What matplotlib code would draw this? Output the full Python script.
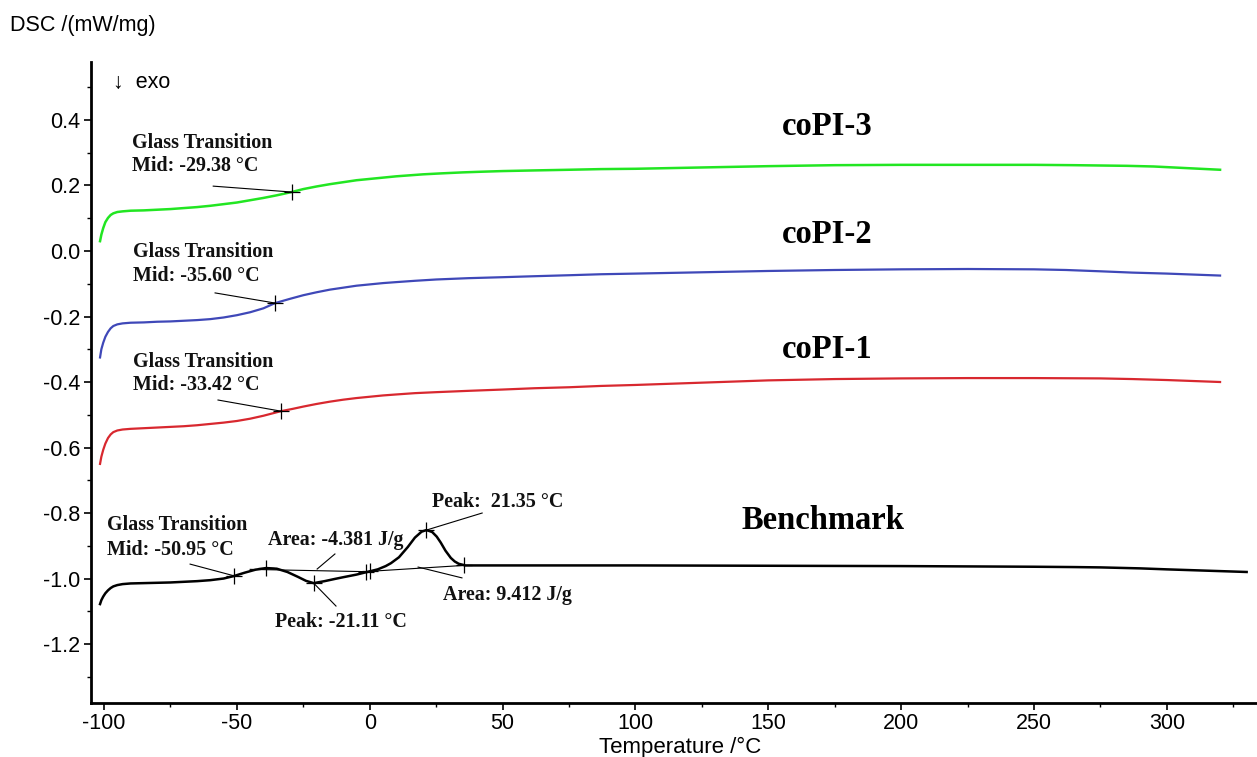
import matplotlib
matplotlib.use("Agg")
import matplotlib.pyplot as plt
from matplotlib.ticker import MultipleLocator

plt.rcParams["axes.unicode_minus"] = False
plt.rcParams["font.family"] = ["Liberation Sans", "DejaVu Sans"]

# --- DSC traces (temperature in °C, heat flow in mW/mg) ---
copi3_T = [-101.5, -101, -100.3, -99.5, -98.5, -97.5, -96.5, -95, -93, -90, -85, -80,
           -75, -70, -65, -60, -55, -50, -45, -40, -35, -29.38, -25, -20, -15, -10, -5,
           0, 5, 10, 15, 20, 27, 35, 42, 50, 62, 75, 87, 100, 125, 150, 175, 200, 225,
           250, 265, 275, 285, 295, 300, 305, 310, 315, 320]
copi3_Q = [0.03, 0.05, 0.07, 0.088, 0.101, 0.110, 0.115, 0.119, 0.121, 0.123, 0.124,
           0.126, 0.128, 0.131, 0.134, 0.138, 0.143, 0.148, 0.155, 0.162, 0.170, 0.180,
           0.189, 0.197, 0.204, 0.210, 0.216, 0.220, 0.224, 0.228, 0.231, 0.234, 0.237,
           0.240, 0.242, 0.244, 0.246, 0.248, 0.250, 0.251, 0.255, 0.259, 0.262, 0.263,
           0.263, 0.263, 0.262, 0.261, 0.260, 0.258, 0.256, 0.254, 0.252, 0.250, 0.248]

copi2_T = [-101.5, -101, -100.3, -99.5, -98.5, -97.5, -96.5, -95, -93, -90, -85, -80,
           -75, -70, -65, -60, -55, -50, -45, -40, -35.6, -30, -25, -20, -15, -10, -5,
           0, 5, 10, 17, 25, 37, 50, 62, 75, 87, 100, 125, 150, 175, 200, 225, 250, 262,
           275, 287, 300, 310, 320]
copi2_Q = [-0.325, -0.300, -0.280, -0.262, -0.247, -0.236, -0.229, -0.224, -0.221,
           -0.219, -0.218, -0.216, -0.215, -0.213, -0.211, -0.208, -0.203, -0.196,
           -0.187, -0.175, -0.159, -0.146, -0.135, -0.126, -0.118, -0.112, -0.106,
           -0.102, -0.098, -0.095, -0.091, -0.087, -0.083, -0.080, -0.077, -0.074,
           -0.071, -0.069, -0.065, -0.061, -0.058, -0.056, -0.055, -0.056, -0.058,
           -0.062, -0.066, -0.069, -0.072, -0.075]

copi1_T = [-101.5, -101, -100.3, -99.5, -98.5, -97.5, -96.5, -95, -93, -90, -85, -80,
           -75, -70, -65, -60, -55, -50, -45, -40, -33.42, -29, -25, -20, -15, -10, -5,
           0, 5, 10, 17, 25, 37, 50, 62, 75, 87, 100, 125, 150, 175, 200, 225, 250, 275,
           287, 300, 310, 320]
copi1_Q = [-0.650, -0.628, -0.607, -0.588, -0.571, -0.560, -0.553, -0.548, -0.545,
           -0.543, -0.541, -0.539, -0.537, -0.535, -0.532, -0.528, -0.524, -0.519,
           -0.512, -0.503, -0.489, -0.482, -0.475, -0.467, -0.460, -0.454, -0.449,
           -0.445, -0.441, -0.438, -0.434, -0.431, -0.427, -0.423, -0.419, -0.416,
           -0.412, -0.409, -0.402, -0.395, -0.391, -0.389, -0.388, -0.388, -0.389,
           -0.391, -0.394, -0.397, -0.400]

bench_T = [-101.5, -101, -100.3, -99.5, -98.5, -97.5, -96.5, -95, -93, -90, -85, -80,
           -75, -70, -65, -60, -55, -50.95, -47, -43, -39, -35, -31, -27, -24, -21.11,
           -17, -13, -10, -5, -1, 3, 6, 8, 11, 14.3, 17, 19.5, 21.35, 23.5, 25.2, 26.7,
           28.5, 30.5, 32, 33.5, 36, 50, 100, 150, 200, 250, 265, 275, 290, 300, 315,
           330]
bench_Q = [-1.078, -1.066, -1.055, -1.045, -1.036, -1.029, -1.024, -1.020, -1.017,
           -1.015, -1.014, -1.013, -1.012, -1.010, -1.008, -1.005, -1.000, -0.992,
           -0.982, -0.973, -0.968, -0.970, -0.980, -0.995, -1.007, -1.014, -1.008,
           -1.001, -0.996, -0.988, -0.980, -0.972, -0.962, -0.953, -0.935, -0.904,
           -0.875, -0.857, -0.852, -0.858, -0.872, -0.890, -0.915, -0.937, -0.948,
           -0.955, -0.960, -0.960, -0.960, -0.961, -0.962, -0.964, -0.965, -0.966,
           -0.969, -0.972, -0.976, -0.980]

# evaluated points (T, Q)
copi3_tg = (-29.38, 0.180)
copi2_tg = (-35.60, -0.159)
copi1_tg = (-33.42, -0.489)
bench_marks_T = [-50.95, -39.0, -21.11, -1.5, 0.0, 21.35, 35.3]
bench_marks_Q = [-0.992, -0.968, -1.014, -0.979, -0.978, -0.852, -0.960]

x_ticks = [-100, -50, 0, 50, 100, 150, 200, 250, 300]
y_ticks = [-1.2, -1.0, -0.8, -0.6, -0.4, -0.2, 0.0, 0.2, 0.4]

c_green = "#22E622"
c_blue = "#3F48B8"
c_red = "#D8282F"

fig = plt.figure(figsize=(12.57, 7.57), dpi=100)
ax = fig.add_axes([91 / 1257, 1 - 703 / 757, 1 - 91 / 1257, (703 - 62) / 757])

ax.plot(copi3_T, copi3_Q, color=c_green, lw=1.8)
ax.plot(copi2_T, copi2_Q, color=c_blue, lw=1.6)
ax.plot(copi1_T, copi1_Q, color=c_red, lw=1.6)
ax.plot(bench_T, bench_Q, color="black", lw=1.8)

# integration baselines
ax.plot([-45, -1.5], [-0.972, -0.979], color="black", lw=0.8)
ax.plot([0, 35.3], [-0.978, -0.960], color="black", lw=0.8)

# leader lines
leaders = [
    ((-58.9, 0.198), copi3_tg),
    ((-58.2, -0.128), copi2_tg),
    ((-57.1, -0.455), copi1_tg),
    ((-67.6, -0.956), (-50.95, -0.992)),
    ((-13.1, -0.925), (-19.8, -0.971)),
    ((-21.11, -1.014), (-12.7, -1.084)),
    ((21.35, -0.852), (42.3, -0.800)),
    ((18.2, -0.965), (34.7, -0.998)),
]
for (x0, y0), (x1, y1) in leaders:
    ax.plot([x0, x1], [y0, y1], color="black", lw=0.8)

# cross markers
for pt in (copi3_tg, copi2_tg, copi1_tg):
    ax.plot(*pt, marker="+", color="black", ms=11, mew=0.9)
ax.plot(bench_marks_T, bench_marks_Q, ls="none", marker="+", color="black", ms=11, mew=0.9)

ann = dict(family=["Liberation Serif", "DejaVu Serif"], weight="bold", fontsize=14.4,
           ha="left", va="center", color="#111111")
ax.text(-89.4, 0.330, "Glass Transition", **ann)
ax.text(-89.4, 0.260, "Mid: -29.38 °C", **ann)
ax.text(-89.0, -0.003, "Glass Transition", **ann)
ax.text(-89.0, -0.076, "Mid: -35.60 °C", **ann)
ax.text(-89.0, -0.339, "Glass Transition", **ann)
ax.text(-89.0, -0.409, "Mid: -33.42 °C", **ann)
ax.text(-98.9, -0.837, "Glass Transition", **ann)
ax.text(-98.9, -0.913, "Mid: -50.95 °C", **ann)
ax.text(-38.3, -0.882, "Area: -4.381 J/g", **ann)
ax.text(-35.6, -1.133, "Peak: -21.11 °C", **ann)
ax.text(23.4, -0.766, "Peak:  21.35 °C", **ann)
ax.text(27.6, -1.050, "Area: 9.412 J/g", **ann)

lab = dict(family=["Liberation Serif", "DejaVu Serif"], weight="bold", fontsize=23.5,
           ha="center", va="center", color="black")
ax.text(172, 0.379, "coPI-3", **lab)
ax.text(172, 0.049, "coPI-2", **lab)
ax.text(172, -0.302, "coPI-1", **lab)
ax.text(170.6, -0.824, "Benchmark", **lab)

ax.text(-96.8, 0.515, "↓  exo", fontsize=15.5, ha="left", va="center")
fig.text(10 / 1257, 1 - 25 / 757, "DSC /(mW/mg)", fontsize=15.5, ha="left", va="center")
fig.text(680 / 1257, 1 - 747 / 757, "Temperature /°C", fontsize=16, ha="center", va="center")

ax.set_xlim(-104.9, 333.9)
ax.set_ylim(-1.380, 0.577)
ax.set_xticks(x_ticks)
ax.set_xticklabels([str(v) for v in x_ticks])
ax.set_yticks(y_ticks)
ax.set_yticklabels([f"{v:.1f}" for v in y_ticks])
ax.xaxis.set_minor_locator(MultipleLocator(25))
ax.yaxis.set_minor_locator(MultipleLocator(0.1))
ax.tick_params(which="major", length=5, width=1.2, labelsize=15.5, direction="out", pad=2.5)
ax.tick_params(which="minor", length=3, width=1.0, direction="out")

for s in ("top", "right"):
    ax.spines[s].set_visible(False)
for s in ("left", "bottom"):
    ax.spines[s].set_linewidth(2)

fig.savefig("out.png", dpi=100)
